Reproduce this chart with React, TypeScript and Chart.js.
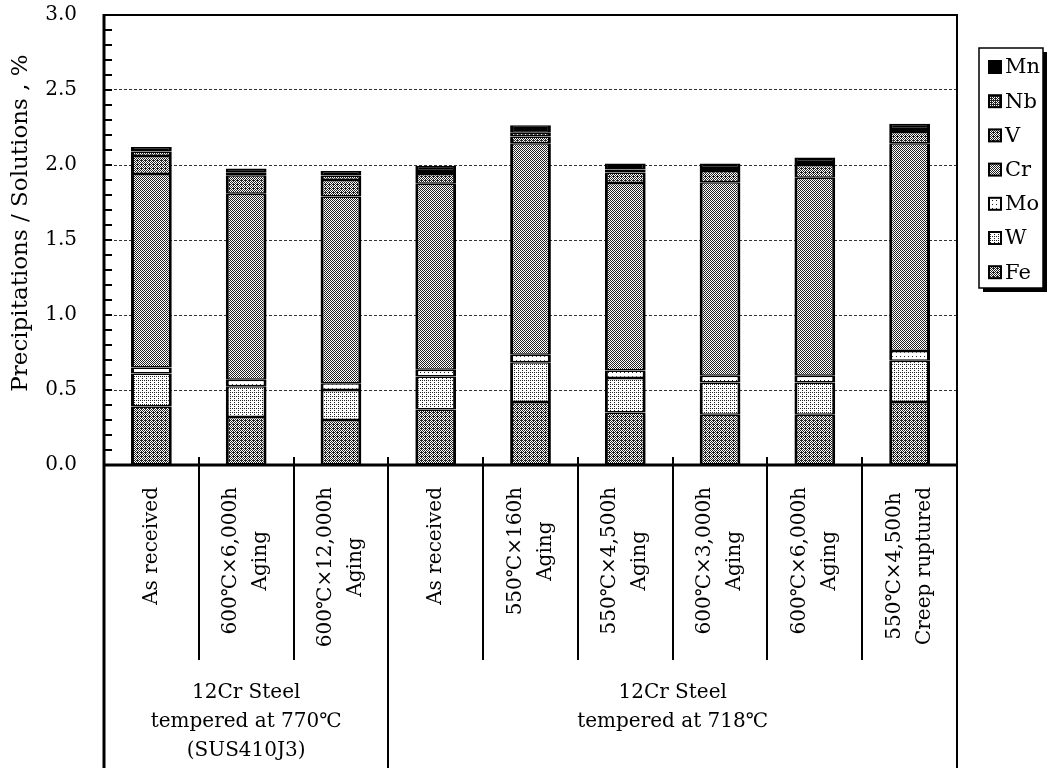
import React, { useEffect, useRef } from "react";
import { Chart, registerables } from "chart.js";

Chart.register(...registerables);

// ---------- data ----------
const categories: string[][] = [
  ["As received"],
  ["600℃×6,000h", "Aging"],
  ["600℃×12,000h", "Aging"],
  ["As received"],
  ["550℃×160h", "Aging"],
  ["550℃×4,500h", "Aging"],
  ["600℃×3,000h", "Aging"],
  ["600℃×6,000h", "Aging"],
  ["550℃×4,500h", "Creep ruptured"],
];

const groupLabels: string[][] = [
  ["12Cr Steel", "tempered at 770℃", "(SUS410J3)"],
  ["12Cr Steel", "tempered at 718℃"],
];
const groupSizes = [3, 6];

const elements = ["Fe", "W", "Mo", "Cr", "V", "Nb", "Mn"];
const fe = [0.39, 0.32, 0.3, 0.37, 0.42, 0.35, 0.335, 0.335, 0.42];
const w = [0.22, 0.205, 0.2, 0.22, 0.265, 0.23, 0.215, 0.215, 0.275];
const mo = [0.04, 0.044, 0.045, 0.045, 0.05, 0.05, 0.045, 0.045, 0.065];
const cr = [1.29, 1.24, 1.245, 1.24, 1.41, 1.25, 1.29, 1.32, 1.385];
const v = [0.12, 0.122, 0.11, 0.065, 0.045, 0.07, 0.075, 0.085, 0.075];
const nb = [0.03, 0.02, 0.03, 0.02, 0.025, 0.02, 0.02, 0.02, 0.02];
const mn = [0.03, 0.025, 0.03, 0.035, 0.05, 0.04, 0.03, 0.03, 0.035];

const yTitle = "Precipitations / Solutions , %";

// ---------- styles ----------
// halftone density (0..16 of a 4x4 ordered dither) for each element
const densities = [9, 3, 1, 8, 9, 11, 16];
const FONT = '"DejaVu Serif", "Noto Sans CJK JP", serif';
const BAYER = [
  [0, 8, 2, 10],
  [12, 4, 14, 6],
  [3, 11, 1, 9],
  [15, 7, 13, 5],
];

function makePattern(ctx: CanvasRenderingContext2D, level: number): CanvasPattern | string {
  if (level >= 16) return "#000";
  const c = document.createElement("canvas");
  c.width = 4;
  c.height = 4;
  const g = c.getContext("2d")!;
  g.fillStyle = "#ffffff";
  g.fillRect(0, 0, 4, 4);
  g.fillStyle = "#222222";
  for (let r = 0; r < 4; r++)
    for (let q = 0; q < 4; q++) if (BAYER[r][q] < level) g.fillRect(q, r, 1, 1);
  return ctx.createPattern(c, "repeat")!;
}

const decor = {
  id: "decor",
  afterDraw(chart: any) {
    const { ctx, chartArea: a, scales } = chart;
    const xs = scales.x;
    const ys = scales.y;
    const H = chart.height;
    const n = categories.length;
    const line = (x1: number, y1: number, x2: number, y2: number) => {
      ctx.beginPath();
      ctx.moveTo(x1, y1);
      ctx.lineTo(x2, y2);
      ctx.stroke();
    };
    ctx.save();
    ctx.strokeStyle = "#000";
    ctx.lineWidth = 2;
    ctx.strokeRect(a.left, a.top, a.right - a.left, a.bottom - a.top);
    ctx.lineWidth = 3;
    line(a.left, a.top - 1, a.left, H);
    line(a.left, a.bottom, a.right, a.bottom);
    ctx.lineWidth = 2;
    line(a.right, a.top, a.right, H);

    // minor ticks on y axis (inward)
    for (let k = 1; k < 30; k++) {
      const py = ys.getPixelForValue(k / 10);
      line(a.left, py, a.left + 8, py);
    }

    // category separators
    const ends: number[] = [];
    let acc = 0;
    groupSizes.forEach((g) => {
      acc += g;
      ends.push(acc);
    });
    for (let i = 1; i < n; i++) {
      const bx = Math.round((xs.getPixelForValue(i - 1) + xs.getPixelForValue(i)) / 2);
      const isGroup = ends.includes(i);
      line(bx, a.bottom - 8, bx, isGroup ? H : a.bottom + 195);
    }

    // rotated category labels
    ctx.fillStyle = "#000";
    ctx.font = `20px ${FONT}`;
    ctx.textBaseline = "middle";
    ctx.textAlign = "center";
    const lh = 30;
    categories.forEach((lines, i) => {
      const cx = xs.getPixelForValue(i);
      const wmax = Math.max(...lines.map((s) => ctx.measureText(s).width));
      ctx.save();
      ctx.translate(cx, a.bottom + 22);
      ctx.rotate(-Math.PI / 2);
      lines.forEach((s, j) => {
        ctx.fillText(s, -wmax / 2, (j - (lines.length - 1) / 2) * lh);
      });
      ctx.restore();
    });

    // group labels
    let start = 0;
    groupLabels.forEach((lines, g) => {
      const endIdx = start + groupSizes[g] - 1;
      const left = start === 0 ? a.left : (xs.getPixelForValue(start - 1) + xs.getPixelForValue(start)) / 2;
      const right = endIdx === n - 1 ? a.right : (xs.getPixelForValue(endIdx) + xs.getPixelForValue(endIdx + 1)) / 2;
      const cx = (left + right) / 2;
      lines.forEach((s, j) => {
        ctx.fillText(s, cx, a.bottom + 228 + j * 29);
      });
      start += groupSizes[g];
    });

    // y axis title
    ctx.save();
    ctx.font = `23px ${FONT}`;
    ctx.translate(21, 223);
    ctx.rotate(-Math.PI / 2);
    ctx.fillText(yTitle, 0, 0);
    ctx.restore();

    // legend
    const lx = a.right + 22;
    const ly = 48;
    const lw = 64;
    const lhgt = 240;
    ctx.fillStyle = "#000";
    ctx.fillRect(lx + 4, ly + 4, lw, lhgt);
    ctx.fillStyle = "#fff";
    ctx.fillRect(lx, ly, lw, lhgt);
    ctx.lineWidth = 1.5;
    ctx.strokeRect(lx, ly, lw, lhgt);
    const ds = chart.data.datasets.slice().reverse();
    ctx.font = `21px ${FONT}`;
    ctx.textAlign = "left";
    ds.forEach((d: any, k: number) => {
      const cy = ly + 19 + k * 34.2;
      ctx.fillStyle = d.backgroundColor;
      ctx.fillRect(lx + 10, cy - 6, 12, 12);
      ctx.strokeStyle = "#000";
      ctx.lineWidth = 2;
      ctx.strokeRect(lx + 10, cy - 6, 12, 12);
      ctx.fillStyle = "#000";
      ctx.fillText(d.label, lx + 26, cy + 1);
    });
    ctx.restore();
  },
};

export default function App() {
  const ref = useRef<HTMLCanvasElement>(null);
  useEffect(() => {
    const canvas = ref.current!;
    const c2d = canvas.getContext("2d")!;
    const series = [fe, w, mo, cr, v, nb, mn];
    const chart = new Chart(canvas, {
      type: "bar",
      data: {
        labels: categories.map((c) => c.join(" ")),
        datasets: elements.map((name, i) => ({
          label: name,
          data: series[i],
          backgroundColor: makePattern(c2d, densities[i]),
          borderColor: "#000",
          borderWidth: { left: 3, right: 3, top: 1.5, bottom: 1.5 },
          borderSkipped: false,
          barPercentage: 0.43,
          categoryPercentage: 1,
        })),
      },
      options: {
        responsive: false,
        animation: false,
        layout: { padding: { top: 15, right: 92, left: 0, bottom: 0 } },
        plugins: { legend: { display: false }, tooltip: { enabled: false } },
        scales: {
          x: {
            stacked: true,
            grid: { display: false },
            border: { display: false },
            ticks: { display: false },
            afterFit: (s: any) => {
              s.height = 303;
            },
          },
          y: {
            stacked: true,
            min: 0,
            max: 3,
            ticks: {
              stepSize: 0.5,
              padding: 0,
              color: "#000",
              font: { family: FONT, size: 20 },
              callback: (val: any) => Number(val).toFixed(1),
            },
            grid: {
              drawTicks: true,
              tickLength: 27,
              tickColor: "rgba(0,0,0,0)",
              lineWidth: 1,
              color: (c: any) =>
                c.tick && (c.tick.value <= 0 || c.tick.value >= 3) ? "rgba(0,0,0,0)" : "#333",
            },
            border: { display: false, dash: [3, 2] },
            afterFit: (s: any) => {
              s.width = 104;
            },
          },
        },
      },
      plugins: [decor],
    } as any);
    return () => chart.destroy();
  }, []);
  return (
    <div style={{ position: "absolute", left: 0, top: 0, width: 1049, height: 768, background: "#fff" }}>
      <canvas ref={ref} width={1049} height={768} style={{ display: "block" }} />
    </div>
  );
}
